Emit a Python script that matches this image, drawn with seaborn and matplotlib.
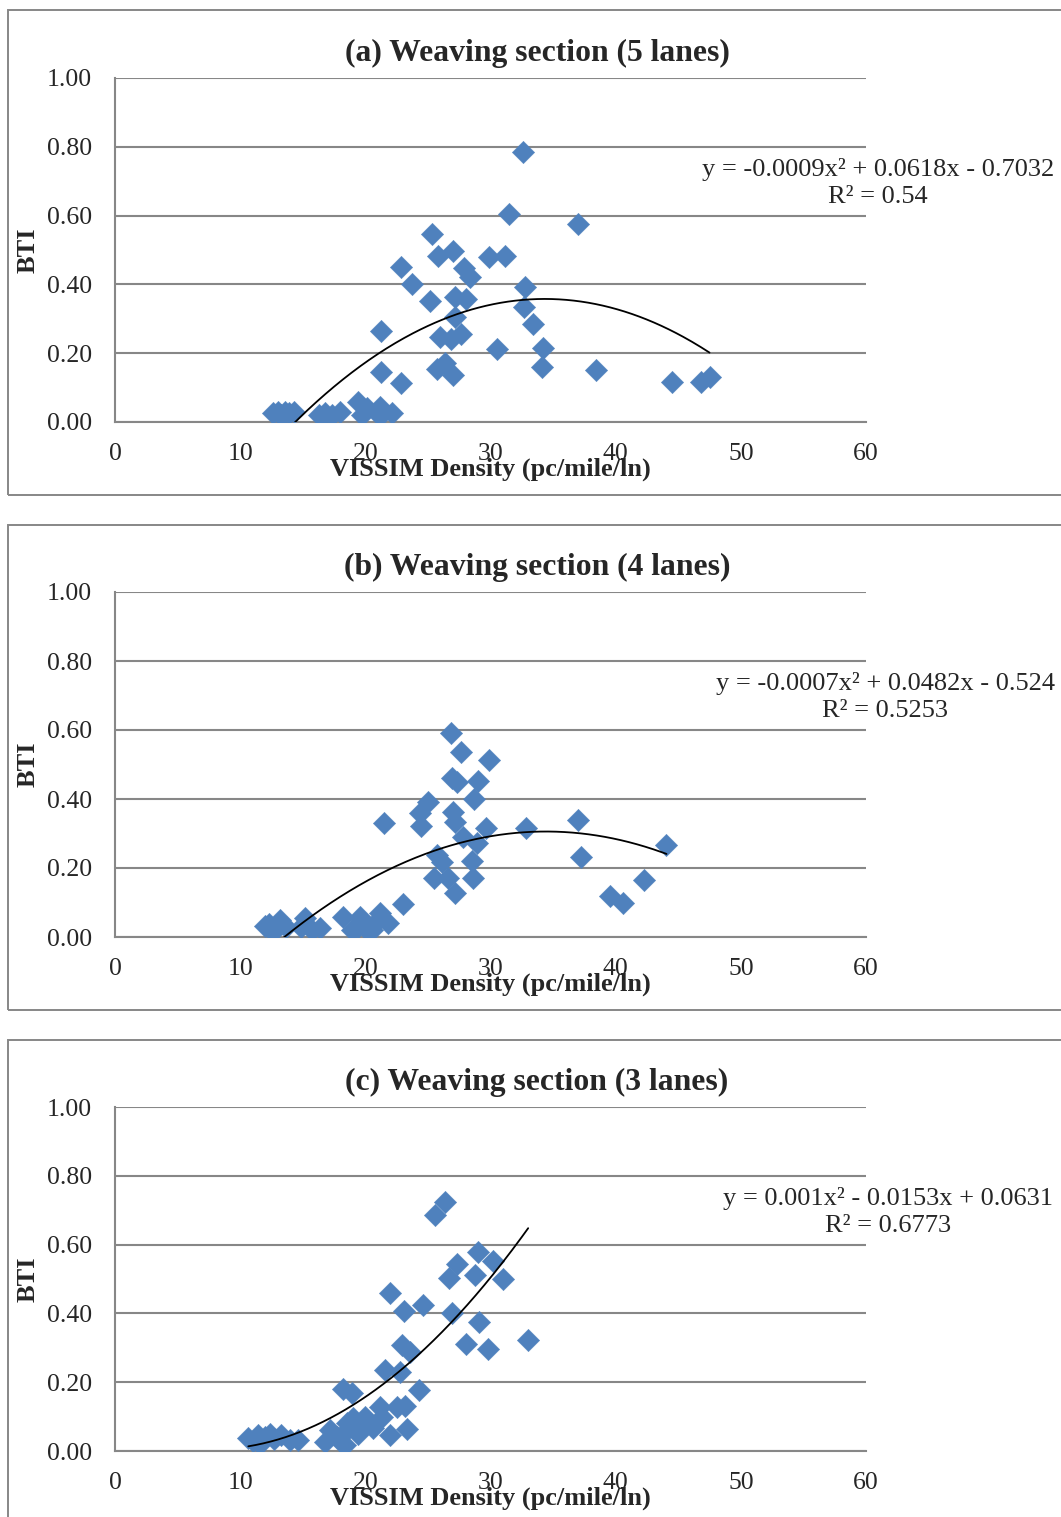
import numpy as np
import pandas as pd
import matplotlib
matplotlib.use("Agg")
import matplotlib.pyplot as plt
from matplotlib.patches import Rectangle
from matplotlib.ticker import FormatStrFormatter
import seaborn as sns

# ---- (a) Weaving section, 5 lanes ----
a_density = [12.6, 13.0, 13.3, 13.6, 13.9, 14.3, 16.3, 16.8, 17.3, 18.0,
             19.4, 19.7, 20.1, 21.2, 21.2, 22.1, 21.25, 21.25, 22.84, 22.84,
             23.75, 25.16, 25.32, 25.75, 25.83, 25.96, 26.36, 26.81, 26.97, 27.02,
             27.16, 27.16, 27.61, 27.88, 28.01, 28.35, 29.85, 30.49, 31.18, 31.45,
             32.56, 32.67, 32.75, 33.41, 34.13, 34.21, 36.96, 38.39, 44.5, 46.8, 47.5]
a_bti = [0.025, 0.03, 0.02, 0.03, 0.025, 0.028, 0.02, 0.025, 0.02, 0.03,
         0.059, 0.02, 0.04, 0.045, 0.017, 0.025, 0.265, 0.146, 0.452, 0.112,
         0.401, 0.353, 0.546, 0.153, 0.483, 0.248, 0.171, 0.24, 0.498, 0.137,
         0.364, 0.304, 0.256, 0.447, 0.359, 0.422, 0.479, 0.212, 0.483, 0.605,
         0.786, 0.333, 0.391, 0.285, 0.161, 0.215, 0.575, 0.151, 0.117, 0.115, 0.132]
a_coef = [-0.0009, 0.0618, -0.7032]
a_r2 = "0.54"

# ---- (b) Weaving section, 4 lanes ----
b_density = [11.98, 12.3, 12.64, 13.18, 13.7, 14.9, 15.18, 15.7, 16.37,
             18.24, 18.9, 19.4, 19.57, 20.1, 20.5, 20.9, 21.17, 21.8,
             21.49, 23.03, 24.36, 24.44, 25.03, 25.48, 25.69, 26.09, 26.62, 26.81,
             26.89, 27.02, 27.16, 27.16, 27.3, 27.64, 27.77, 28.49, 28.62, 28.67,
             28.94, 29.0, 29.63, 29.9, 32.8, 36.96, 37.22, 39.54, 40.6, 42.25, 44.06]
b_bti = [0.032, 0.037, 0.015, 0.049, 0.03, 0.03, 0.054, 0.02, 0.025,
         0.059, 0.02, 0.03, 0.059, 0.02, 0.02, 0.045, 0.069, 0.041,
         0.33, 0.095, 0.359, 0.322, 0.392, 0.172, 0.238, 0.218, 0.172, 0.59,
         0.46, 0.363, 0.334, 0.128, 0.45, 0.537, 0.291, 0.221, 0.172, 0.4,
         0.272, 0.453, 0.317, 0.513, 0.317, 0.339, 0.231, 0.12, 0.098, 0.165, 0.267]
b_coef = [-0.0007, 0.0482, -0.524]
b_r2 = "0.5253"

# ---- (c) Weaving section, 3 lanes ----
c_density = [10.65, 11.0, 11.45, 11.6, 12.0, 12.4, 12.7, 13.3, 13.98, 14.6,
             16.77, 17.17, 17.7, 18.0, 18.37, 18.4, 18.5, 18.18, 18.9, 19.0,
             19.4, 19.83, 20.0, 20.63, 21.17, 21.3, 21.96, 22.5, 23.16, 23.3,
             24.3, 21.57, 22.76, 22.9, 23.56, 21.96, 23.11, 24.62, 25.56, 26.36,
             26.7, 26.89, 27.29, 28.04, 28.75, 29.02, 29.1, 29.77, 30.17, 30.97, 33.01]
c_bti = [0.037, 0.03, 0.047, 0.02, 0.04, 0.05, 0.035, 0.047, 0.032, 0.032,
         0.027, 0.061, 0.042, 0.03, 0.017, 0.056, 0.08, 0.179, 0.17, 0.095,
         0.05, 0.08, 0.1, 0.066, 0.129, 0.1, 0.047, 0.129, 0.131, 0.063,
         0.177, 0.235, 0.231, 0.308, 0.289, 0.458, 0.408, 0.424, 0.686, 0.725,
         0.502, 0.402, 0.544, 0.311, 0.512, 0.579, 0.376, 0.296, 0.553, 0.5, 0.323]
c_coef = [0.001, -0.0153, 0.0631]
c_r2 = "0.6773"

titles = ["(a) Weaving section (5 lanes)",
          "(b) Weaving section (4 lanes)",
          "(c) Weaving section (3 lanes)"]
equations = ["y = -0.0009x\u00b2 + 0.0618x - 0.7032",
             "y = -0.0007x\u00b2 + 0.0482x - 0.524",
             "y = 0.001x\u00b2 - 0.0153x + 0.0631"]

x_ticks = [0, 10, 20, 30, 40, 50, 60]
y_ticks = [0.0, 0.2, 0.4, 0.6, 0.8, 1.0]

sns.set_style("white")
plt.rcParams["font.family"] = ["Liberation Serif", "DejaVu Serif"]

W, H = 1061, 1517
fig = plt.figure(figsize=(W / 100, H / 100), dpi=100)

MARKER_BLUE = "#4F81BD"
GRID_GRAY = "#878787"

panels = [
    dict(x=a_density, y=a_bti, coef=a_coef, r2=a_r2, top=78, bottom=422,
         frame=(10, 495), title_y=61, eq_x=878),
    dict(x=b_density, y=b_bti, coef=b_coef, r2=b_r2, top=592, bottom=937,
         frame=(525, 1010), title_y=575, eq_x=885),
    dict(x=c_density, y=c_bti, coef=c_coef, r2=c_r2, top=1107, bottom=1451,
         frame=(1040, 1530), title_y=1090, eq_x=888),
]

left_px, right_px = 115, 866

for i, p in enumerate(panels):
    # chart-area border
    f_top, f_bot = p["frame"]
    fig.add_artist(Rectangle((8 / W, 1 - f_bot / H), (1080 - 8) / W, (f_bot - f_top) / H,
                             transform=fig.transFigure, fill=False,
                             edgecolor=GRID_GRAY, linewidth=1.4, zorder=0))

    plot_h = p["bottom"] - p["top"]
    ax = fig.add_axes([left_px / W, 1 - p["bottom"] / H,
                       (right_px - left_px) / W, plot_h / H])
    ax.set_facecolor("none")

    df = pd.DataFrame({"density": p["x"], "bti": p["y"]})
    sns.scatterplot(data=df, x="density", y="bti", marker="D", s=130,
                    color=MARKER_BLUE, edgecolor=MARKER_BLUE, linewidth=0.3,
                    ax=ax, zorder=3)

    # polynomial trendline from the stated equation over the data range
    xs = np.linspace(min(p["x"]), max(p["x"]), 300)
    ys = np.polyval(p["coef"], xs)
    sns.lineplot(x=xs, y=ys, color="black", linewidth=1.3, ax=ax, zorder=4,
                 sort=False)

    ax.set_xlim(0, 60)
    ax.set_ylim(0, 1)
    ax.set_xticks(x_ticks)
    ax.set_yticks(y_ticks)
    ax.yaxis.set_major_formatter(FormatStrFormatter("%.2f"))
    ax.tick_params(axis="both", length=0, labelsize=18.5)
    ax.tick_params(axis="y", pad=16.5)
    ax.tick_params(axis="x", pad=15)

    ax.grid(axis="y", color=GRID_GRAY, linewidth=1.5)
    ax.grid(axis="x", visible=False)
    for side in ("top", "right"):
        ax.spines[side].set_visible(False)
    for side in ("left", "bottom"):
        ax.spines[side].set_color(GRID_GRAY)
        ax.spines[side].set_linewidth(1.5)

    # x label sits just under the tick labels, baseline ~54 px below the axis
    ax.set_xlabel("VISSIM Density (pc/mile/ln)", fontsize=19, fontweight="bold")
    ax.xaxis.label.set_va("baseline")
    ax.xaxis.set_label_coords((490 - left_px) / (right_px - left_px),
                              -54.0 / plot_h)

    ax.set_ylabel("BTI", fontsize=19, fontweight="bold")
    ax.yaxis.label.set_va("center")
    ax.yaxis.set_label_coords((28 - left_px) / (right_px - left_px), 0.5)

    fig.text(537 / W, 1 - p["title_y"] / H, titles[i], ha="center", va="baseline",
             fontsize=22.8, fontweight="bold")

    eq_y_center = p["top"] + 90 + 15
    fig.text(p["eq_x"] / W, 1 - eq_y_center / H,
             equations[i] + "\nR\u00b2 = " + p["r2"],
             ha="center", va="center", multialignment="center",
             fontsize=19, linespacing=1.25)

fig.savefig("out.png", dpi=100)
